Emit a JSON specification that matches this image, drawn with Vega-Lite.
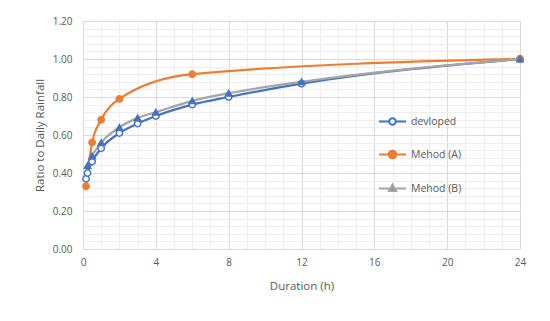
{
  "$schema": "https://vega.github.io/schema/vega-lite/v6.json",
  "width": 437,
  "height": 228,
  "autosize": "none",
  "padding": {"left": 83, "top": 21, "right": 30, "bottom": 72},
  "background": "white",
  "config": {"view": {"stroke": null}, "font": "Open Sans"},
  "data": {
    "values": [
      {"series": "devloped", "duration": 0.167, "ratio": 0.37},
      {"series": "devloped", "duration": 0.25, "ratio": 0.40},
      {"series": "devloped", "duration": 0.5, "ratio": 0.46},
      {"series": "devloped", "duration": 1, "ratio": 0.53},
      {"series": "devloped", "duration": 2, "ratio": 0.61},
      {"series": "devloped", "duration": 3, "ratio": 0.66},
      {"series": "devloped", "duration": 4, "ratio": 0.70},
      {"series": "devloped", "duration": 6, "ratio": 0.76},
      {"series": "devloped", "duration": 8, "ratio": 0.80},
      {"series": "devloped", "duration": 12, "ratio": 0.87},
      {"series": "devloped", "duration": 24, "ratio": 1.00},
      {"series": "Mehod (A)", "duration": 0.167, "ratio": 0.33},
      {"series": "Mehod (A)", "duration": 0.5, "ratio": 0.56},
      {"series": "Mehod (A)", "duration": 1, "ratio": 0.68},
      {"series": "Mehod (A)", "duration": 2, "ratio": 0.79},
      {"series": "Mehod (A)", "duration": 6, "ratio": 0.92},
      {"series": "Mehod (A)", "duration": 24, "ratio": 1.00},
      {"series": "Mehod (B)", "duration": 0.25, "ratio": 0.44},
      {"series": "Mehod (B)", "duration": 0.5, "ratio": 0.49},
      {"series": "Mehod (B)", "duration": 1, "ratio": 0.56},
      {"series": "Mehod (B)", "duration": 2, "ratio": 0.64},
      {"series": "Mehod (B)", "duration": 3, "ratio": 0.69},
      {"series": "Mehod (B)", "duration": 4, "ratio": 0.72},
      {"series": "Mehod (B)", "duration": 6, "ratio": 0.78},
      {"series": "Mehod (B)", "duration": 8, "ratio": 0.82},
      {"series": "Mehod (B)", "duration": 12, "ratio": 0.88},
      {"series": "Mehod (B)", "duration": 24, "ratio": 1.00}
    ]
  },
  "layer": [
    {
      "mark": {"type": "line", "interpolate": "monotone", "strokeWidth": 2.25},
      "encoding": {
        "x": {
          "field": "duration", "type": "quantitative",
          "scale": {"domain": [0, 24], "nice": false},
          "axis": {
            "values": [0, 4, 8, 12, 16, 20, 24], "title": "Duration (h)",
            "grid": true, "gridColor": "#D9D9D9", "domain": false, "ticks": false,
            "labelColor": "#595959", "labelFontSize": 10, "labelPadding": 8, "labelFlush": false,
            "titleColor": "#595959", "titleFontSize": 11.5, "titleFontWeight": "normal", "titlePadding": 13
          }
        },
        "y": {
          "field": "ratio", "type": "quantitative",
          "scale": {"domain": [0, 1.2], "nice": false},
          "axis": {
            "values": [0, 0.2, 0.4, 0.6, 0.8, 1.0, 1.2], "format": ".2f", "title": "Ratio to Daily Rainfall",
            "grid": true, "gridColor": "#D9D9D9", "domain": false, "ticks": false,
            "labelColor": "#595959", "labelFontSize": 10, "labelPadding": 11, "labelFlush": false,
            "titleColor": "#595959", "titleFontSize": 11.5, "titleFontWeight": "normal", "titlePadding": 7
          }
        },
        "stroke": {
          "field": "series", "type": "nominal",
          "scale": {"domain": ["devloped", "Mehod (A)", "Mehod (B)"], "range": ["#4472C4", "#ED7D31", "#A5A5A5"]},
          "legend": {
            "orient": "none", "legendX": 295, "legendY": 86, "title": null, "padding": 0,
            "rowPadding": 11, "symbolSize": 729, "symbolStrokeWidth": 2,
            "labelFontSize": 10.5, "labelColor": "#595959", "labelOffset": 4,
            "encode": {
              "symbols": {
                "update": {
                  "shape": {"signal": "datum.value === 'Mehod (B)' ? 'M-1,0H1M0,-0.3L0.27,0.18L-0.27,0.18Z' : (datum.value === 'Mehod (A)' ? 'M-1,0H-0.28M0.28,0H1M-0.28,0A0.28,0.28 0 1,0 0.28,0A0.28,0.28 0 1,0 -0.28,0Z' : 'M-1,0H-0.24M0.24,0H1M-0.24,0A0.24,0.24 0 1,0 0.24,0A0.24,0.24 0 1,0 -0.24,0Z')"},
                  "fill": {"signal": "datum.value === 'devloped' ? '#FFFFFF' : (datum.value === 'Mehod (A)' ? '#ED7D31' : '#4472C4')"},
                  "opacity": {"value": 1}
                }
              }
            }
          }
        }
      }
    },
    {
      "mark": {"type": "point", "filled": true, "size": 40, "strokeWidth": 1.5, "opacity": 1},
      "encoding": {
        "x": {
          "field": "duration", "type": "quantitative",
          "scale": {"domain": [0, 24], "nice": false},
          "axis": {
            "orient": "top", "values": [1, 2, 3, 5, 6, 7, 9, 10, 11, 13, 14, 15, 17, 18, 19, 21, 22, 23],
            "grid": true, "gridColor": "#EEEEEE", "labels": false, "ticks": false, "domain": false, "title": null
          }
        },
        "y": {
          "field": "ratio", "type": "quantitative",
          "scale": {"domain": [0, 1.2], "nice": false},
          "axis": {
            "orient": "right", "values": [0.04, 0.08, 0.12, 0.16, 0.24, 0.28, 0.32, 0.36, 0.44, 0.48, 0.52, 0.56, 0.64, 0.68, 0.72, 0.76, 0.84, 0.88, 0.92, 0.96, 1.04, 1.08, 1.12, 1.16],
            "grid": true, "gridColor": "#EEEEEE", "labels": false, "ticks": false, "domain": false, "title": null
          }
        },
        "shape": {
          "field": "series", "type": "nominal",
          "scale": {"domain": ["devloped", "Mehod (A)", "Mehod (B)"], "range": ["circle", "circle", "triangle-up"]},
          "legend": null
        },
        "fill": {
          "field": "series", "type": "nominal",
          "scale": {"domain": ["devloped", "Mehod (A)", "Mehod (B)"], "range": ["#FFFFFF", "#ED7D31", "#4472C4"]},
          "legend": null
        },
        "stroke": {
          "field": "series", "type": "nominal",
          "scale": {"domain": ["devloped", "Mehod (A)", "Mehod (B)"], "range": ["#4472C4", "#ED7D31", "#4472C4"]},
          "legend": null
        }
      }
    }
  ],
  "resolve": {"axis": {"x": "independent", "y": "independent"}, "scale": {"stroke": "independent"}}
}
